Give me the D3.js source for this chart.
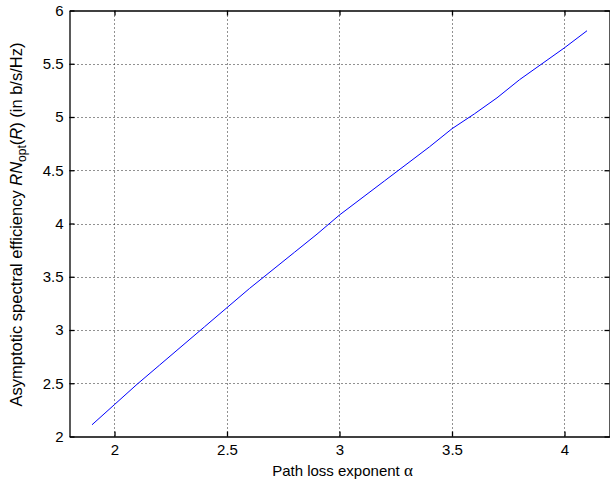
<!DOCTYPE html>
<html><head><meta charset="utf-8">
<script src="https://cdn.jsdelivr.net/npm/d3@7"></script>
<style>
body{margin:0;background:#fff;}
svg{display:block;font-family:"Liberation Sans",Arial,sans-serif;}
</style></head>
<body><svg id="c" width="610" height="481"></svg>
<script>
const alphaVals = [1.9,2.0,2.1,2.2,2.3,2.4,2.5,2.6,2.7,2.8,2.9,3.0,3.1,3.2,3.3,3.4,3.5,3.6,3.7,3.8,3.9,4.0,4.1];
const efficiency = [2.11,2.30,2.49,2.67,2.85,3.03,3.21,3.39,3.56,3.73,3.90,4.08,4.24,4.40,4.56,4.72,4.89,5.03,5.18,5.35,5.50,5.65,5.81];
const xTicks = [2,2.5,3,3.5,4];
const yTicks = [2,2.5,3,3.5,4,4.5,5,5.5,6];

const L=69.5, R=609.5, T=10.5, B=436.5;
const svg = d3.select("#c");
const x = d3.scaleLinear().domain([1.8,4.2]).range([L,R]);
const y = d3.scaleLinear().domain([2,6]).range([B,T]);

// grid
const grid = svg.append("g").attr("stroke","#222").attr("stroke-width",1).attr("stroke-dasharray","1,3");
grid.selectAll(".gx").data(xTicks).join("line")
  .attr("x1",d=>Math.round(x(d))+0.5).attr("x2",d=>Math.round(x(d))+0.5).attr("y1",B).attr("y2",T);
grid.selectAll(".gy").data(yTicks.filter(d=>d>2&&d<6)).join("line")
  .attr("y1",d=>Math.round(y(d))+0.5).attr("y2",d=>Math.round(y(d))+0.5).attr("x1",L).attr("x2",R);

// line
svg.append("path").datum(alphaVals.map((a,i)=>[a,efficiency[i]]))
  .attr("fill","none").attr("stroke","#0000ff").attr("stroke-width",1)
  .attr("d",d3.line().x(d=>x(d[0])).y(d=>y(d[1])));

const fmt = d=>String(d);
const axB = svg.append("g").attr("transform",`translate(0,${B})`)
  .call(d3.axisBottom(x).tickValues(xTicks).tickFormat(fmt).tickSizeInner(-5).tickSizeOuter(0).tickPadding(8));
const axT = svg.append("g").attr("transform",`translate(0,${T})`)
  .call(d3.axisTop(x).tickValues(xTicks).tickFormat("").tickSizeInner(-5).tickSizeOuter(0));
const axL = svg.append("g").attr("transform",`translate(${L},0)`)
  .call(d3.axisLeft(y).tickValues(yTicks).tickFormat(fmt).tickSizeInner(-5).tickSizeOuter(0).tickPadding(6));
const axR = svg.append("g").attr("transform",`translate(${R},0)`)
  .call(d3.axisRight(y).tickValues(yTicks).tickFormat("").tickSizeInner(-5).tickSizeOuter(0));
[axB,axT,axL,axR].forEach(a=>{
  a.selectAll("path,line").attr("stroke","#000").attr("stroke-width",1.3);
  a.selectAll("text").attr("font-size",15).attr("fill","#000").attr("font-family","Liberation Sans, Arial, sans-serif");
});

// x label
const xl = svg.append("text").attr("x",(L+R)/2+3).attr("y",476).attr("text-anchor","middle")
  .attr("font-size",15).attr("fill","#000");
xl.append("tspan").text("Path loss exponent ");
xl.append("tspan").attr("font-family","Liberation Serif, serif").attr("font-size",17).text("α");

// y label
const yl = svg.append("text").attr("transform",`translate(22,${(T+B)/2+1}) rotate(-90)`)
  .attr("text-anchor","middle").attr("font-size",16.5).attr("fill","#000");
yl.append("tspan").text("Asymptotic spectral efficiency ");
yl.append("tspan").attr("font-style","italic").text("RN");
yl.append("tspan").attr("font-size",12).attr("dy",4).text("opt");
yl.append("tspan").attr("dy",-4).text("(");
yl.append("tspan").attr("font-style","italic").text("R");
yl.append("tspan").text(") (in b/s/Hz)");
</script></body></html>
